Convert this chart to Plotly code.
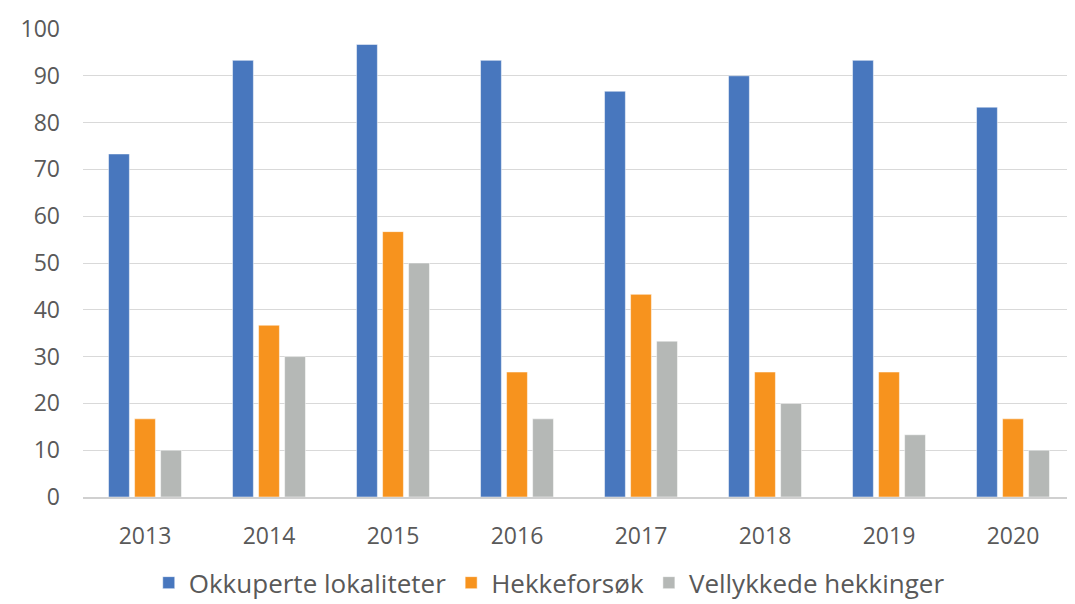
import plotly.graph_objects as go

years = ["2013", "2014", "2015", "2016", "2017", "2018", "2019", "2020"]
okkuperte = [73.3, 93.3, 96.7, 93.3, 86.7, 90.0, 93.3, 83.3]
hekkeforsok = [16.7, 36.7, 56.7, 26.7, 43.3, 26.7, 26.7, 16.7]
vellykkede = [10.0, 30.0, 50.0, 16.7, 33.3, 20.0, 13.3, 10.0]

series = [
    ("Okkuperte lokaliteter", okkuperte, "#4877be"),
    ("Hekkeforsøk", hekkeforsok, "#f7931e"),
    ("Vellykkede hekkinger", vellykkede, "#b5b8b6"),
]

fig = go.Figure()
for name, vals, col in series:
    fig.add_trace(go.Bar(x=years, y=vals, name=name,
                         marker=dict(color=col, line=dict(color="white", width=0.5))))

fig.update_layout(
    width=1067, height=596,
    paper_bgcolor="white", plot_bgcolor="white",
    font=dict(family="Open Sans", color="#595959", size=23),
    margin=dict(l=75, r=0, t=21, b=107, autoexpand=False),
    barmode="group", bargap=0.37, bargroupgap=0.2,
    yaxis=dict(range=[0, 100], dtick=10, gridcolor="#d9d9d9", gridwidth=1.3,
               zeroline=False, ticks="", ticklabelstandoff=22, automargin=False,
               tickfont=dict(size=23)),
    xaxis=dict(showline=True, linecolor="#d0d0d0", linewidth=1.5, ticks="",
               ticklabelstandoff=18, automargin=False, tickfont=dict(size=23)),
    legend=dict(orientation="h", x=0.47, xanchor="center", y=-0.133, yanchor="top",
                font=dict(size=26), itemwidth=30, traceorder="normal"),
    showlegend=True,
)
fig.write_html("out.html")
